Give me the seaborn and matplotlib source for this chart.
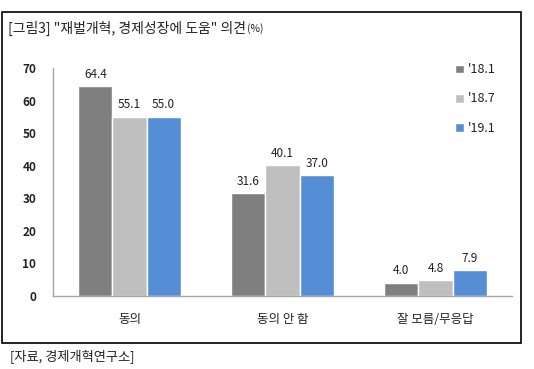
import pandas as pd
import matplotlib.pyplot as plt
import seaborn as sns
from matplotlib.patches import Rectangle

# data
categories = ['동의', '동의 안 함', '잘 모름/무응답']
periods = ["'18.1", "'18.7", "'19.1"]
v_18_1 = [64.4, 31.6, 4.0]
v_18_7 = [55.1, 40.1, 4.8]
v_19_1 = [55.0, 37.0, 7.9]
colors = ['#7f7f7f', '#bfbfbf', '#558ed5']

df = pd.DataFrame({
    'category': categories * 3,
    'period': [periods[0]] * 3 + [periods[1]] * 3 + [periods[2]] * 3,
    'value': v_18_1 + v_18_7 + v_19_1,
})

sns.set_style('white')
plt.rcParams['font.family'] = ['Noto Sans CJK KR', 'DejaVu Sans']

fig = plt.figure(figsize=(5.34, 3.69), dpi=100)
ax = fig.add_axes([53 / 534, 1 - 296 / 369, 459 / 534, 228 / 369])

sns.barplot(data=df, x='category', y='value', hue='period', palette=colors,
            width=0.67, saturation=1, ax=ax, legend=True)

for cont in ax.containers:
    ax.bar_label(cont, fmt='%.1f', padding=4, fontsize=8.5, color='#222222')

ax.set_ylim(0, 70)
ax.set_xlim(-0.5, 2.5)
ax.set_yticks(range(0, 71, 10))
ax.set_xlabel('')
ax.set_ylabel('')
ax.tick_params(axis='y', length=0, labelsize=8.5, pad=12, colors='#222222')
ax.tick_params(axis='x', length=0, labelsize=9, pad=12, colors='#222222')
for lab in ax.get_yticklabels():
    lab.set_fontweight('bold')
for s in ['top', 'right']:
    ax.spines[s].set_visible(False)
for s in ['left', 'bottom']:
    ax.spines[s].set_color('#a6a6a6')
    ax.spines[s].set_linewidth(1)

leg = ax.legend(loc='upper left', bbox_to_anchor=(444 / 534, 1 - 52 / 369),
                bbox_transform=fig.transFigure, frameon=False, fontsize=9,
                handlelength=0.7, handleheight=0.7, handletextpad=0.3,
                labelspacing=1.3)
for t in leg.get_texts():
    t.set_color('#222222')

# outer box, title, source
fig.patches.append(Rectangle((2 / 534, 1 - 343 / 369), 519 / 534, 331 / 369,
                             transform=fig.transFigure, fill=False,
                             edgecolor='black', linewidth=1.2))
title = fig.text(8 / 534, 1 - 28 / 369, '[그림3] "재벌개혁, 경제성장에 도움" 의견',
                 fontsize=10, va='center', color='#222222')
fig.canvas.draw()
bb = title.get_window_extent().transformed(fig.transFigure.inverted())
fig.text(bb.x1 + 1 / 534, 1 - 29 / 369, '(%)', fontsize=7.5, va='center',
         color='#222222')
fig.text(10 / 534, 1 - 356 / 369, '[자료, 경제개혁연구소]', fontsize=9.5,
         va='center', color='#222222')

fig.savefig('out.png', dpi=100)
